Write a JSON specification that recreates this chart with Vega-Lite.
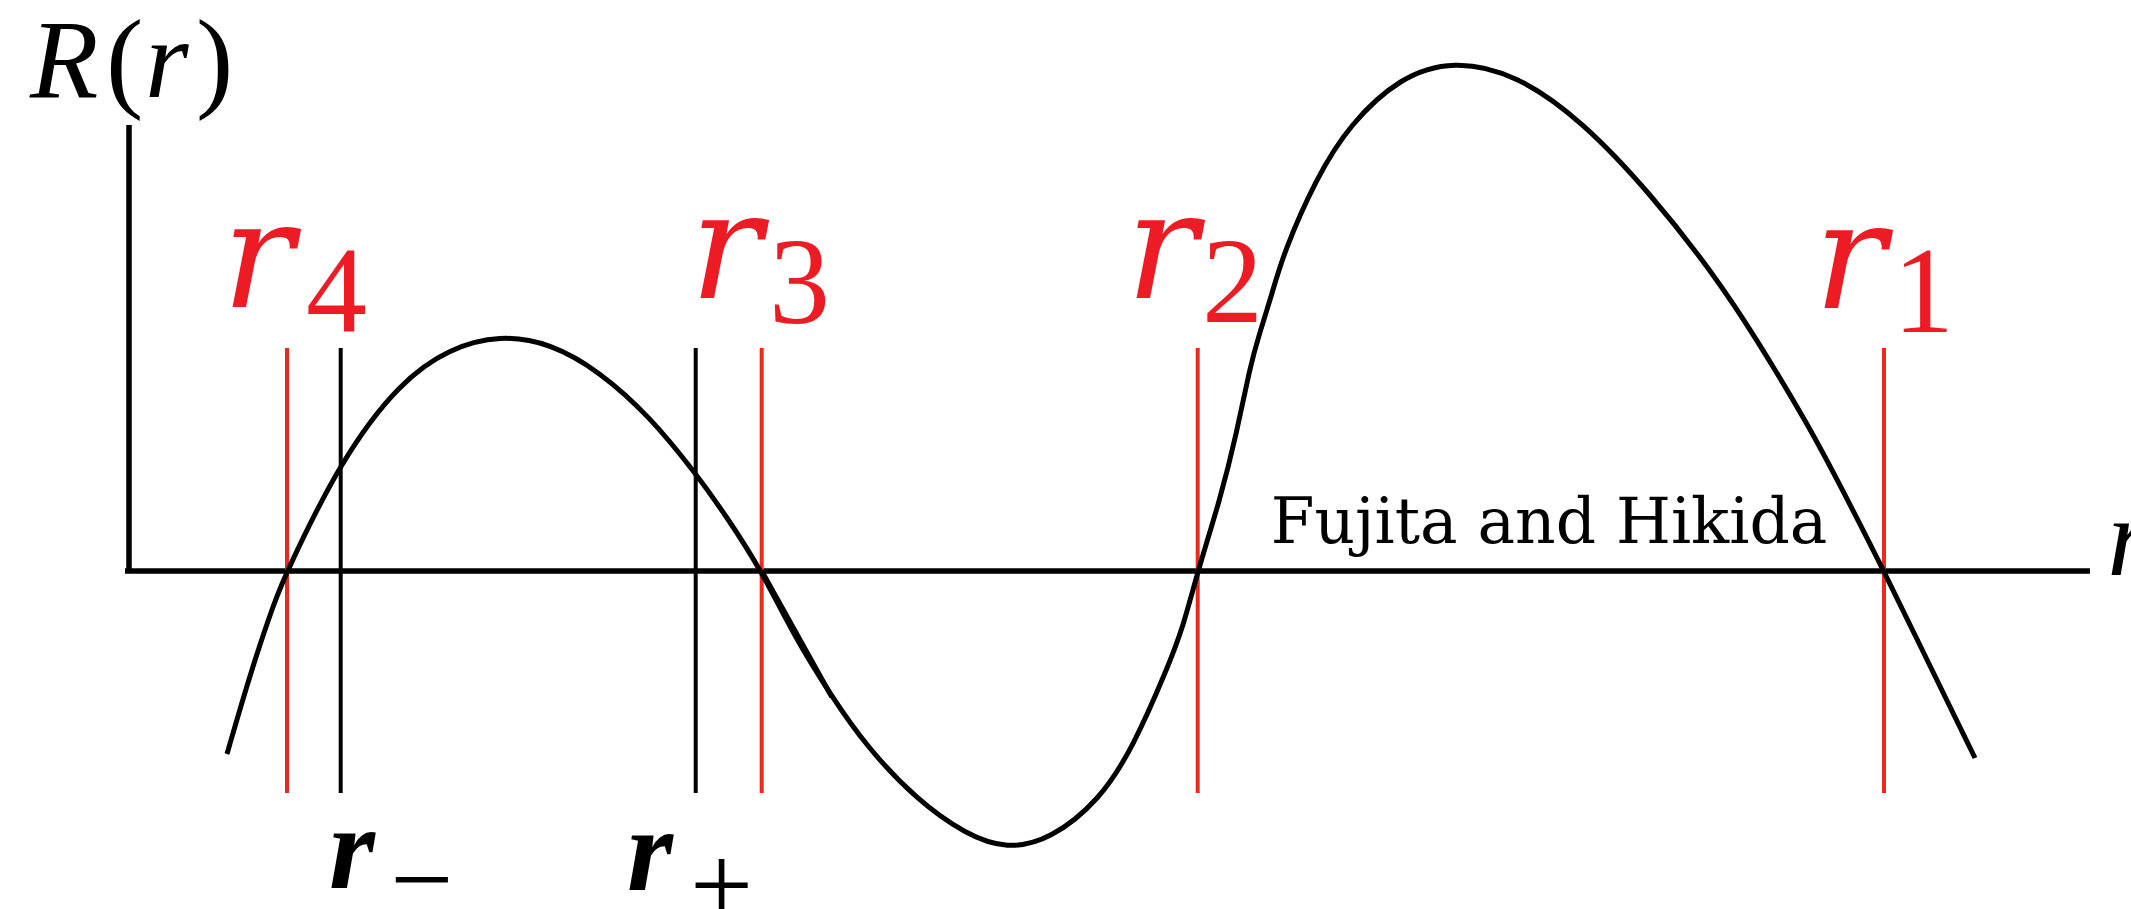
{
  "$schema": "https://vega.github.io/schema/vega-lite/v6.json",
  "width": 2131,
  "height": 909,
  "padding": 0,
  "autosize": {"type": "none"},
  "background": "white",
  "config": {"view": {"stroke": null}},
  "datasets": {
    "axes": [
      {"r": -0.04, "R": 0, "r_end": 19.61, "R_end": 0},
      {"r": 0, "R": 4.46, "r_end": 0, "R_end": 0}
    ],
    "markers": [
      {"r": 1.58, "R": 2.23, "R_end": -2.22, "kind": "root"},
      {"r": 2.117, "R": 2.23, "R_end": -2.22, "kind": "horizon"},
      {"r": 5.667, "R": 2.23, "R_end": -2.22, "kind": "horizon"},
      {"r": 6.327, "R": 2.23, "R_end": -2.22, "kind": "root"},
      {"r": 10.687, "R": 2.23, "R_end": -2.22, "kind": "root"},
      {"r": 17.55, "R": 2.23, "R_end": -2.22, "kind": "root"}
    ],
    "curve": [
      {"s": "R", "r": 0.98, "R": -1.83}, {"s": "R", "r": 1.22, "R": -1.0},
      {"s": "R", "r": 1.46, "R": -0.29}, {"s": "R", "r": 1.58, "R": 0.0},
      {"s": "R", "r": 2.117, "R": 1.11}, {"s": "R", "r": 2.71, "R": 1.893},
      {"s": "R", "r": 3.21, "R": 2.23}, {"s": "R", "r": 3.71, "R": 2.36},
      {"s": "R", "r": 4.21, "R": 2.28}, {"s": "R", "r": 4.71, "R": 1.993},
      {"s": "R", "r": 5.21, "R": 1.543}, {"s": "R", "r": 5.667, "R": 0.977},
      {"s": "R", "r": 5.977, "R": 0.543}, {"s": "R", "r": 6.327, "R": 0.0},
      {"s": "R", "r": 6.64, "R": -0.63}, {"s": "R", "r": 7.027, "R": -1.257},
      {"s": "R", "r": 7.377, "R": -1.757}, {"s": "R", "r": 7.877, "R": -2.29},
      {"s": "R", "r": 8.377, "R": -2.64}, {"s": "R", "r": 8.777, "R": -2.78},
      {"s": "R", "r": 9.21, "R": -2.69}, {"s": "R", "r": 9.71, "R": -2.29},
      {"s": "R", "r": 10.043, "R": -1.757}, {"s": "R", "r": 10.377, "R": -0.99},
      {"s": "R", "r": 10.543, "R": -0.557}, {"s": "R", "r": 10.687, "R": 0.0},
      {"s": "R", "r": 10.91, "R": 0.71}, {"s": "R", "r": 11.077, "R": 1.377},
      {"s": "R", "r": 11.21, "R": 2.043}, {"s": "R", "r": 11.3, "R": 2.36},
      {"s": "R", "r": 11.427, "R": 2.76}, {"s": "R", "r": 11.543, "R": 3.177},
      {"s": "R", "r": 11.877, "R": 3.94}, {"s": "R", "r": 12.21, "R": 4.47},
      {"s": "R", "r": 12.71, "R": 4.94}, {"s": "R", "r": 13.243, "R": 5.11},
      {"s": "R", "r": 13.877, "R": 4.97}, {"s": "R", "r": 14.543, "R": 4.49},
      {"s": "R", "r": 15.21, "R": 3.78}, {"s": "R", "r": 15.84, "R": 2.98},
      {"s": "R", "r": 16.27, "R": 2.33}, {"s": "R", "r": 16.81, "R": 1.43},
      {"s": "R", "r": 17.12, "R": 0.84}, {"s": "R", "r": 17.55, "R": 0.0},
      {"s": "R", "r": 18.01, "R": -0.95}, {"s": "R", "r": 18.46, "R": -1.87},
      {"s": "chord", "r": 6.327, "R": 0.0}, {"s": "chord", "r": 7.027, "R": -1.257}
    ],
    "rootBase": [
      {"r": 0.93, "R": 2.64, "t": "r"},
      {"r": 5.61, "R": 2.73, "t": "r"},
      {"r": 9.97, "R": 2.73, "t": "r"},
      {"r": 16.85, "R": 2.63, "t": "r"}
    ],
    "rootSub": [
      {"r": 1.77, "R": 2.39, "t": "4"},
      {"r": 6.40, "R": 2.48, "t": "3"},
      {"r": 10.73, "R": 2.49, "t": "2"},
      {"r": 17.64, "R": 2.39, "t": "1"}
    ],
    "horizonBase": [
      {"r": 2.0, "R": -3.17, "t": "r"},
      {"r": 4.98, "R": -3.19, "t": "r"}
    ],
    "horizonSub": [
      {"r": 2.61, "R": -3.46, "t": "−"},
      {"r": 5.61, "R": -3.52, "t": "+"}
    ],
    "titleItalic": [
      {"r": -0.99, "R": 4.74, "t": "R"},
      {"r": 0.16, "R": 4.74, "t": "r"},
      {"r": 19.78, "R": -0.04, "t": "r"}
    ],
    "titleUpright": [
      {"r": -0.23, "R": 4.74, "t": "("},
      {"r": 0.67, "R": 4.74, "t": ")"}
    ],
    "note": [
      {"r": 14.20, "R": 0.28, "t": "Fujita and Hikida"}
    ]
  },
  "encoding": {
    "x": {"field": "r", "type": "quantitative", "axis": null,
          "scale": {"domain": [-1.29, 20.02], "nice": false, "zero": false}},
    "y": {"field": "R", "type": "quantitative", "axis": null,
          "scale": {"domain": [-3.38, 5.71], "nice": false, "zero": false}}
  },
  "layer": [
    {
      "data": {"name": "axes"},
      "mark": {"type": "rule", "color": "black", "strokeWidth": 5.5},
      "encoding": {
        "x2": {"field": "r_end"},
        "y2": {"field": "R_end"}
      }
    },
    {
      "data": {"name": "markers"},
      "mark": {"type": "rule", "strokeWidth": 4},
      "encoding": {
        "y2": {"field": "R_end"},
        "color": {"field": "kind", "type": "nominal", "legend": null,
                  "scale": {"domain": ["root", "horizon"], "range": ["#ec2a1c", "#000000"]}}
      }
    },
    {
      "data": {"name": "curve"},
      "mark": {"type": "line", "color": "black", "strokeWidth": 5, "interpolate": "basis"},
      "encoding": {"detail": {"field": "s", "type": "nominal"}}
    },
    {
      "data": {"name": "rootBase"},
      "mark": {"type": "text", "align": "left", "baseline": "alphabetic", "font": "DejaVu Serif",
               "fontStyle": "italic", "fontSize": 150, "color": "#ed1c24"},
      "encoding": {"text": {"field": "t"}}
    },
    {
      "data": {"name": "rootSub"},
      "mark": {"type": "text", "align": "left", "baseline": "alphabetic", "font": "Liberation Serif",
               "fontSize": 122, "color": "#ed1c24"},
      "encoding": {"text": {"field": "t"}}
    },
    {
      "data": {"name": "horizonBase"},
      "mark": {"type": "text", "align": "left", "baseline": "alphabetic", "font": "Liberation Serif",
               "fontStyle": "italic", "fontWeight": "bold", "fontSize": 118, "color": "black"},
      "encoding": {"text": {"field": "t"}}
    },
    {
      "data": {"name": "horizonSub"},
      "mark": {"type": "text", "align": "left", "baseline": "alphabetic", "font": "Liberation Serif",
               "fontSize": 112, "color": "black"},
      "encoding": {"text": {"field": "t"}}
    },
    {
      "data": {"name": "titleItalic"},
      "mark": {"type": "text", "align": "left", "baseline": "alphabetic", "font": "Liberation Serif",
               "fontStyle": "italic", "fontSize": 112, "color": "black"},
      "encoding": {"text": {"field": "t"}}
    },
    {
      "data": {"name": "titleUpright"},
      "mark": {"type": "text", "align": "left", "baseline": "alphabetic", "font": "Liberation Serif",
               "fontSize": 112, "color": "black"},
      "encoding": {"text": {"field": "t"}}
    },
    {
      "data": {"name": "note"},
      "mark": {"type": "text", "align": "center", "baseline": "alphabetic", "font": "DejaVu Serif",
               "fontSize": 63, "color": "black"},
      "encoding": {"text": {"field": "t"}}
    }
  ]
}
